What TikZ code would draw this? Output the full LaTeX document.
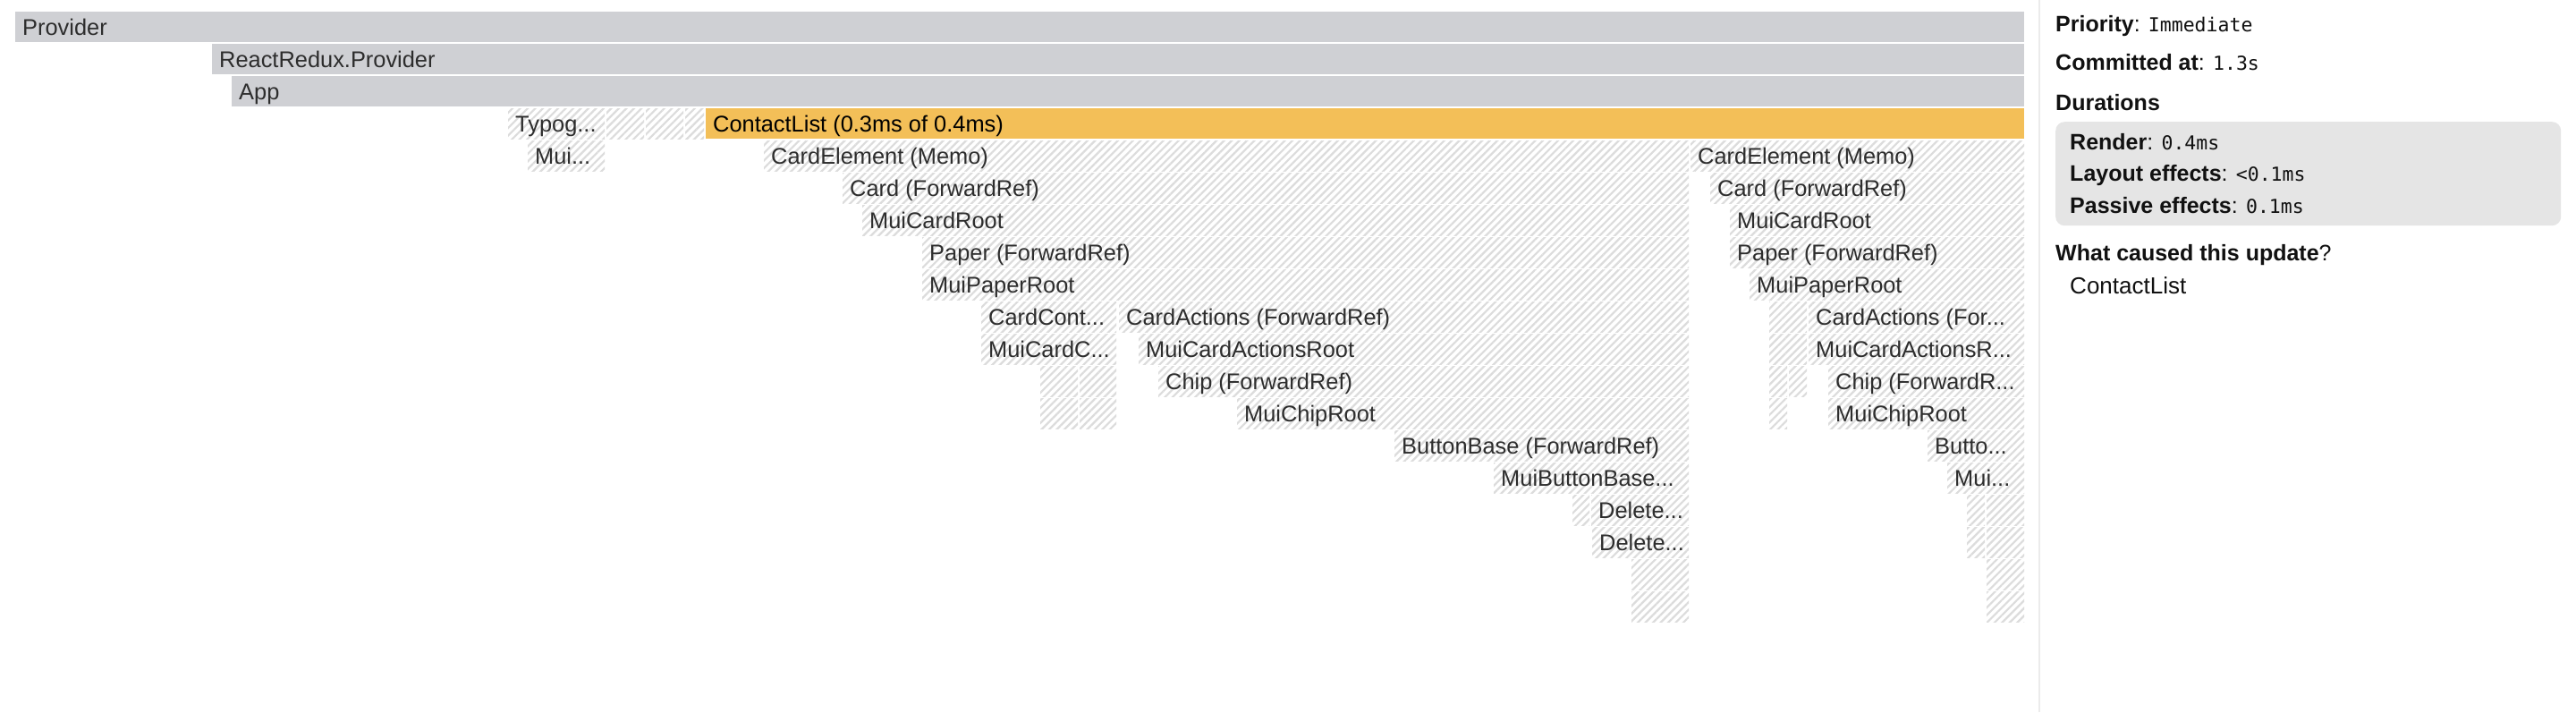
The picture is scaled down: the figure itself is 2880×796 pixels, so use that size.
\documentclass[tikz,border=0pt]{standalone}
\usepackage{fontspec}
\setmainfont{Liberation Sans}
\setmonofont{DejaVu Sans Mono}
\usetikzlibrary{patterns.meta}
\definecolor{barGray}{RGB}{207,208,212}
\definecolor{barOrange}{RGB}{243,191,88}
\definecolor{hatchGray}{RGB}{220,220,220}
\definecolor{barText}{RGB}{45,45,45}
\definecolor{panelGray}{RGB}{229,229,229}
\definecolor{sepGray}{RGB}{235,235,235}
\definecolor{panelText}{RGB}{17,17,17}
\tikzset{
  fbar/.style={inner sep=0pt, outer sep=0pt, anchor=north west, minimum height=34pt},
  graybar/.style={fbar, fill=barGray},
  orangebar/.style={fbar, fill=barOrange},
  hatchbar/.style={fbar, pattern={Lines[angle=45,distance=6pt,line width=2.2pt]}, pattern color=hatchGray},
  barlabel/.style={anchor=base west, inner sep=0pt, font=\fontsize{25.4}{25.4}\selectfont, text=barText},
  plabel/.style={anchor=base west, inner sep=0pt, font=\fontsize{25}{25}\selectfont, text=panelText},
}
\newcommand\mono[1]{{\ttfamily\fontsize{21.5}{21.5}\selectfont #1}}
% labelled bar: name, x1, x2, row, style, label
\newcommand\fb[6]{%
  \node[#5, minimum width={(#3)-(#2)}] (#1) at (#2,{13+36*#4}) {};
  \node[barlabel] (#1t) at ({#2+8},{39+36*#4}) {#6};}
% blank hatched bar: name, x1, x2, row
\newcommand\fh[4]{%
  \node[hatchbar, minimum width={(#3)-(#2)}] (#1) at (#2,{13+36*#4}) {};}
\begin{document}
\begin{tikzpicture}[x=1pt,y=-1pt]
\path[use as bounding box, fill=white] (0,0) rectangle (2880,796);
% flame graph
\fb{r0}{17}{2263}{0}{graybar}{Provider}
\fb{r1}{237}{2263}{1}{graybar}{ReactRedux.Provider}
\fb{r2}{259}{2263}{2}{graybar}{App}
\fb{r3a}{568}{676}{3}{hatchbar}{Typog...}
\fh{r3b}{678}{720}{3}
\fh{r3c}{722}{764}{3}
\fh{r3d}{766}{787}{3}
\fb{r3e}{789}{2263}{3}{orangebar}{\color{black}ContactList (0.3ms of 0.4ms)}
\fb{r4a}{590}{676}{4}{hatchbar}{Mui...}
\fb{r4b}{854}{1888}{4}{hatchbar}{CardElement (Memo)}
\fb{r4c}{1890}{2263}{4}{hatchbar}{CardElement (Memo)}
\fb{r5a}{942}{1888}{5}{hatchbar}{Card (ForwardRef)}
\fb{r5b}{1912}{2263}{5}{hatchbar}{Card (ForwardRef)}
\fb{r6a}{964}{1888}{6}{hatchbar}{MuiCardRoot}
\fb{r6b}{1934}{2263}{6}{hatchbar}{MuiCardRoot}
\fb{r7a}{1031}{1888}{7}{hatchbar}{Paper (ForwardRef)}
\fb{r7b}{1934}{2263}{7}{hatchbar}{Paper (ForwardRef)}
\fb{r8a}{1031}{1888}{8}{hatchbar}{MuiPaperRoot}
\fb{r8b}{1956}{2263}{8}{hatchbar}{MuiPaperRoot}
\fb{r9a}{1097}{1248}{9}{hatchbar}{CardCont...}
\fb{r9b}{1251}{1888}{9}{hatchbar}{CardActions (ForwardRef)}
\fh{r9c}{1978}{2020}{9}
\fb{r9d}{2022}{2263}{9}{hatchbar}{CardActions (For...}
\fb{r10a}{1097}{1248}{10}{hatchbar}{MuiCardC...}
\fb{r10b}{1273}{1888}{10}{hatchbar}{MuiCardActionsRoot}
\fh{r10c}{1978}{2020}{10}
\fb{r10d}{2022}{2263}{10}{hatchbar}{MuiCardActionsR...}
\fh{r11a}{1163}{1205}{11}
\fh{r11b}{1207}{1248}{11}
\fb{r11c}{1295}{1888}{11}{hatchbar}{Chip (ForwardRef)}
\fh{r11d}{1978}{1998}{11}
\fh{r11e}{2000}{2020}{11}
\fb{r11f}{2044}{2263}{11}{hatchbar}{Chip (ForwardR...}
\fh{r12a}{1163}{1205}{12}
\fh{r12b}{1207}{1248}{12}
\fb{r12c}{1383}{1888}{12}{hatchbar}{MuiChipRoot}
\fh{r12d}{1978}{1998}{12}
\fb{r12e}{2044}{2263}{12}{hatchbar}{MuiChipRoot}
\fb{r13a}{1559}{1888}{13}{hatchbar}{ButtonBase (ForwardRef)}
\fb{r13b}{2155}{2263}{13}{hatchbar}{Butto...}
\fb{r14a}{1670}{1888}{14}{hatchbar}{MuiButtonBase...}
\fb{r14b}{2177}{2263}{14}{hatchbar}{Mui...}
\fh{r15a}{1758}{1777}{15}
\fb{r15b}{1779}{1888}{15}{hatchbar}{Delete...}
\fh{r15c}{2199}{2219}{15}
\fh{r15d}{2221}{2263}{15}
\fb{r16a}{1780}{1888}{16}{hatchbar}{Delete...}
\fh{r16b}{2199}{2219}{16}
\fh{r16c}{2221}{2263}{16}
\fh{r17a}{1824}{1888}{17}
\fh{r17b}{2221}{2263}{17}
\fh{r18a}{1824}{1888}{18}
\fh{r18b}{2221}{2263}{18}
% separator
\coordinate (sepTop) at (2280,0);
\coordinate (sepBot) at (2280,796);
\draw[sepGray, line width=2pt] (sepTop) -- (sepBot);
% side panel
\node[plabel] (prio) at (2298,35) {\textbf{Priority}: \mono{Immediate}};
\node[plabel] (commit) at (2298,78) {\textbf{Committed at}: \mono{1.3s}};
\node[plabel] (dur) at (2298,123) {\textbf{Durations}};
\node[fill=panelGray, rounded corners=10pt, inner sep=0pt, anchor=north west, minimum width=565pt, minimum height=116pt] (durbox) at (2298,136) {};
\node[plabel] (render) at (2314,167) {\textbf{Render}: \mono{0.4ms}};
\node[plabel] (layout) at (2314,202) {\textbf{Layout effects}: \mono{<0.1ms}};
\node[plabel] (passive) at (2314,238) {\textbf{Passive effects}: \mono{0.1ms}};
\node[plabel] (why) at (2298,291) {\textbf{What caused this update}?};
\node[plabel, font=\fontsize{26}{26}\selectfont] (cause) at (2314,328) {ContactList};
\end{tikzpicture}
\end{document}
